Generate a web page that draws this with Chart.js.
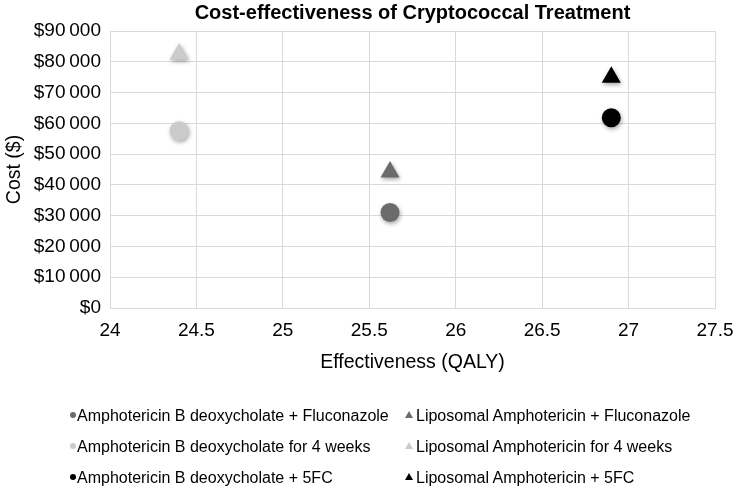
<!DOCTYPE html>
<html>
<head>
<meta charset="utf-8">
<script src="https://cdn.jsdelivr.net/npm/chart.js@4"></script>
<style>
  html, body { margin: 0; padding: 0; background: #fff; }
  #wrap { position: relative; width: 735px; height: 487px; }
  #legend { position: absolute; left: 0; top: 0; font-family: "Liberation Sans", Arial, sans-serif; font-size: 16px; color: #000; }
  .item { position: absolute; white-space: nowrap; line-height: 18px; }
  .mk { position: absolute; }
  .dot { width: 6px; height: 6px; border-radius: 50%; }
  .tri { width: 0; height: 0; border-left: 4px solid transparent; border-right: 4px solid transparent; border-bottom-width: 7px; border-bottom-style: solid; }
</style>
</head>
<body>
<div id="wrap">
  <canvas id="myChart" width="735" height="487"></canvas>
  <div id="legend"></div>
</div>
<script>
// treatments (QALY, cost $)
var labels = [
  'Amphotericin B deoxycholate + Fluconazole',
  'Liposomal Amphotericin + Fluconazole',
  'Amphotericin B deoxycholate for 4 weeks',
  'Liposomal Amphotericin for 4 weeks',
  'Amphotericin B deoxycholate + 5FC',
  'Liposomal Amphotericin + 5FC'
];
var effectiveness = [25.62, 25.62, 24.40, 24.40, 26.90, 26.90];
var cost = [31000, 44200, 57600, 82500, 61800, 75000];
var shapes = ['circle', 'triangle', 'circle', 'triangle', 'circle', 'triangle'];
var colors = ['#6b6b6b', '#6b6b6b', '#cbcbcb', '#cbcbcb', '#000000', '#000000'];

var fontFamily = '"Liberation Sans", Arial, sans-serif';

function money(v) {
  if (v === 0) return '$0';
  var s = String(v);
  return '$' + s.slice(0, s.length - 3) + '\u202F' + s.slice(-3);
}

var shadow = {
  id: 'shadow',
  beforeDatasetsDraw: function(chart) {
    var ctx = chart.ctx;
    ctx.save();
    ctx.shadowColor = 'rgba(0,0,0,0.35)';
    ctx.shadowBlur = 4;
    ctx.shadowOffsetX = 1;
    ctx.shadowOffsetY = 2;
  },
  afterDatasetsDraw: function(chart) {
    chart.ctx.restore();
  }
};

function getChart() {
  var datasets = labels.map(function(l, i) {
    return {
      label: l,
      data: [{ x: effectiveness[i], y: cost[i] }],
      pointStyle: shapes[i],
      pointRadius: shapes[i] === 'circle' ? 9.5 : 11,
      backgroundColor: colors[i],
      borderColor: colors[i],
      borderWidth: 0
    };
  });

  var ctx = document.getElementById('myChart').getContext('2d');
  var myChart = new Chart(ctx, {
    type: 'scatter',
    data: { datasets: datasets },
    plugins: [shadow],
    options: {
      responsive: false,
      animation: false,
      layout: { padding: { left: 0, right: 20, top: 0, bottom: 105 } },
      plugins: {
        legend: { display: false },
        tooltip: { enabled: false },
        title: {
          display: true,
          fullSize: false,
          text: 'Cost-effectiveness of Cryptococcal Treatment',
          color: '#000',
          font: { family: fontFamily, size: 20, weight: 'bold' },
          padding: { top: 1, bottom: 6 }
        }
      },
      scales: {
        x: {
          type: 'linear',
          min: 24,
          max: 27.5,
          afterFit: function(scale) {
            scale.height = 74;
            scale.paddingLeft = 0;
            scale.paddingRight = 0;
          },
          ticks: {
            stepSize: 0.5,
            color: '#000',
            padding: 11,
            font: { family: fontFamily, size: 19 },
            callback: function(v) { return String(v); }
          },
          grid: { color: '#d9d9d9', drawTicks: false },
          border: { color: '#d9d9d9' },
          title: {
            display: true,
            text: 'Effectiveness (QALY)',
            color: '#000',
            font: { family: fontFamily, size: 19.5 },
            padding: { top: 0, bottom: 8 }
          }
        },
        y: {
          min: 0,
          max: 90000,
          afterFit: function(scale) { scale.width = 110; },
          ticks: {
            stepSize: 10000,
            color: '#000',
            padding: 9,
            font: { family: fontFamily, size: 19 },
            callback: function(v) { return money(v); }
          },
          grid: { color: '#d9d9d9', drawTicks: false },
          border: { color: '#d9d9d9' },
          title: {
            display: true,
            text: 'Cost ($)',
            color: '#000',
            font: { family: fontFamily, size: 19.5 },
            padding: { top: 3, bottom: 0 }
          }
        }
      }
    }
  });
  return myChart;
}

function getLegend(chart) {
  var box = document.getElementById('legend');
  var colX = [68, 404];
  var rowY = [406, 437, 468];
  var gap = [9, 12];
  chart.data.datasets.forEach(function(ds, i) {
    var col = i % 2, row = Math.floor(i / 2);
    var mk = document.createElement('div');
    mk.className = 'mk ' + (ds.pointStyle === 'circle' ? 'dot' : 'tri');
    if (ds.pointStyle === 'circle') {
      mk.style.background = ds.backgroundColor;
      mk.style.left = (colX[col] + 2) + 'px';
      mk.style.top = (rowY[row] + 6) + 'px';
    } else {
      mk.style.borderBottomColor = ds.backgroundColor;
      mk.style.left = (colX[col] + 1) + 'px';
      mk.style.top = (rowY[row] + 5) + 'px';
    }
    box.appendChild(mk);
    var t = document.createElement('div');
    t.className = 'item';
    t.textContent = ds.label;
    t.style.left = (colX[col] + gap[col]) + 'px';
    t.style.top = (rowY[row] + 1) + 'px';
    box.appendChild(t);
  });
}

getLegend(getChart());
</script>
</body>
</html>
